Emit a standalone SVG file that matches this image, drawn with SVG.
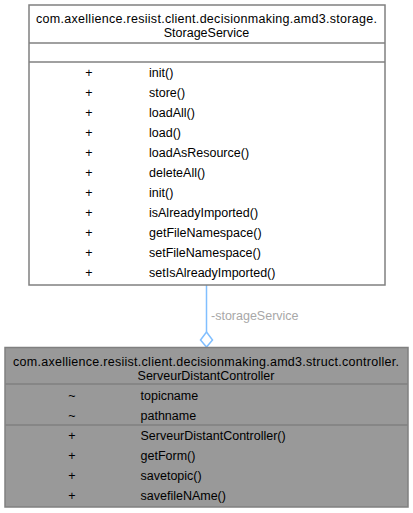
<svg xmlns="http://www.w3.org/2000/svg" width="413" height="513" viewBox="0 0 413 513">
<style>
text{font-family:"Liberation Sans",Arial,sans-serif;font-size:12.5px;fill:#000}
.c{text-anchor:middle}
.m{text-anchor:start}
.box{stroke:#808080;stroke-width:1.5}
.sep{stroke:#808080;stroke-width:1.5}
.lbl{fill:#a8a8a8}
</style>
<rect width="413" height="513" fill="#fff"/>
<g id="connectors">
<line x1="206.5" y1="285" x2="206.5" y2="332" stroke="#80bfff" stroke-width="1.5"/>
<polygon points="206.5,332 212.5,340 206.5,347 200.5,340" fill="#fff" stroke="#80bfff" stroke-width="1.5"/>
<text class="lbl" x="211" y="320">-storageService</text>
</g>
<g id="StorageService">
<rect class="box" x="29" y="5" width="356" height="280" fill="#fff"/>
<line class="sep" x1="29" y1="43" x2="385" y2="43"/>
<line class="sep" x1="29" y1="62" x2="385" y2="62"/>
<text class="c" x="206.5" y="22.5" textLength="341" lengthAdjust="spacing">com.axellience.resiist.client.decisionmaking.amd3.storage.</text>
<text class="c" x="206.5" y="36.5">StorageService</text>
<text class="c" x="89" y="77">+</text>
<text class="c" x="89" y="97">+</text>
<text class="c" x="89" y="117">+</text>
<text class="c" x="89" y="137">+</text>
<text class="c" x="89" y="157">+</text>
<text class="c" x="89" y="177">+</text>
<text class="c" x="89" y="197">+</text>
<text class="c" x="89" y="217">+</text>
<text class="c" x="89" y="237">+</text>
<text class="c" x="89" y="257">+</text>
<text class="c" x="89" y="277">+</text>
<text class="m" x="149" y="77">init()</text>
<text class="m" x="149" y="97">store()</text>
<text class="m" x="149" y="117">loadAll()</text>
<text class="m" x="149" y="137">load()</text>
<text class="m" x="149" y="157">loadAsResource()</text>
<text class="m" x="149" y="177">deleteAll()</text>
<text class="m" x="149" y="197">init()</text>
<text class="m" x="149" y="217">isAlreadyImported()</text>
<text class="m" x="149" y="237">getFileNamespace()</text>
<text class="m" x="149" y="257">setFileNamespace()</text>
<text class="m" x="149" y="277">setIsAlreadyImported()</text>
</g>
<g id="ServeurDistantController">
<rect class="box" x="5" y="347.5" width="403" height="159.5" fill="#999999"/>
<line class="sep" x1="5" y1="384" x2="408" y2="384"/>
<line class="sep" x1="5" y1="425" x2="408" y2="425"/>
<text class="c" x="206" y="366" textLength="386" lengthAdjust="spacing">com.axellience.resiist.client.decisionmaking.amd3.struct.controller.</text>
<text class="c" x="206" y="380">ServeurDistantController</text>
<text class="c" x="72" y="400">~</text>
<text class="c" x="72" y="420">~</text>
<text class="c" x="72" y="440">+</text>
<text class="c" x="72" y="460">+</text>
<text class="c" x="72" y="480">+</text>
<text class="c" x="72" y="500">+</text>
<text class="m" x="140.5" y="400">topicname</text>
<text class="m" x="140.5" y="420">pathname</text>
<text class="m" x="140.5" y="440">ServeurDistantController()</text>
<text class="m" x="140.5" y="460">getForm()</text>
<text class="m" x="140.5" y="480">savetopic()</text>
<text class="m" x="140.5" y="500">savefileNAme()</text>
</g>
</svg>
